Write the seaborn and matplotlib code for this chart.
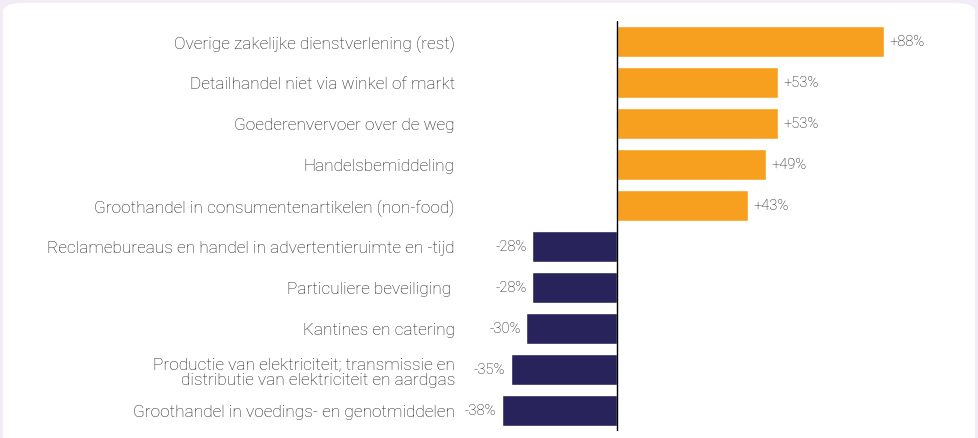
import matplotlib
matplotlib.use('Agg')
import matplotlib.pyplot as plt
import seaborn as sns
import pandas as pd
from matplotlib.patches import FancyBboxPatch

categories = [
    'Overige zakelijke dienstverlening (rest)',
    'Detailhandel niet via winkel of markt',
    'Goederenvervoer over de weg',
    'Handelsbemiddeling',
    'Groothandel in consumentenartikelen (non-food)',
    'Reclamebureaus en handel in advertentieruimte en -tijd',
    'Particuliere beveiliging ',
    'Kantines en catering',
    'Productie van elektriciteit; transmissie en\ndistributie van elektriciteit en aardgas',
    'Groothandel in voedings- en genotmiddelen',
]
changes = [88, 53, 53, 49, 43, -28, -28, -30, -35, -38]

df = pd.DataFrame({'categorie': categories, 'verandering': changes})
df['teken'] = ['plus' if v > 0 else 'min' for v in df['verandering']]

sns.set_style('white')
plt.rcParams['font.family'] = ['Roboto', 'DejaVu Sans']
plt.rcParams['font.weight'] = 'light'

fig = plt.figure(figsize=(9.79, 4.39), dpi=100)
fig.patch.set_facecolor('#f3ebf6')
# white card behind the chart
fig.patches.append(FancyBboxPatch((3 / 979, -0.05), 972 / 979, 1 - 4 / 439 + 0.05,
                                  boxstyle='round,pad=0,rounding_size=0.02',
                                  transform=fig.transFigure, facecolor='white',
                                  edgecolor='none', zorder=-10))

# axes placed so that zero sits at x~617 px, rows 22..432 px
ax = fig.add_axes([455 / 979, 7 / 439, 505 / 979, 410 / 439])
ax.set_facecolor('none')

sns.barplot(data=df, y='categorie', x='verandering', hue='teken', orient='h',
            palette={'plus': '#f7a01f', 'min': '#28235a'}, width=0.74,
            saturation=1, dodge=False, legend=False, ax=ax)

for cont in ax.containers:
    vals = cont.datavalues
    labels = ['+%d%%' % v if v > 0 else '%d%%' % v for v in vals]
    ax.bar_label(cont, labels=labels, padding=4, fontsize=10.5, color='#111111',
                 fontweight='light')

ax.set_xlim(-53.5, 113)
ax.set_ylim(9.5, -0.5)
ax.axvline(0, color='black', lw=1)
ax.set_xlabel('')
ax.set_ylabel('')
ax.set_xticks([])
ax.tick_params(axis='y', length=0, pad=0, labelsize=12.4, labelcolor='#1a1a1a')
for lbl in ax.get_yticklabels():
    lbl.set_fontweight('light')
    lbl.set_linespacing(1.05)
sns.despine(ax=ax, left=True, bottom=True)

fig.savefig('out.png', dpi=100, facecolor=fig.get_facecolor())
